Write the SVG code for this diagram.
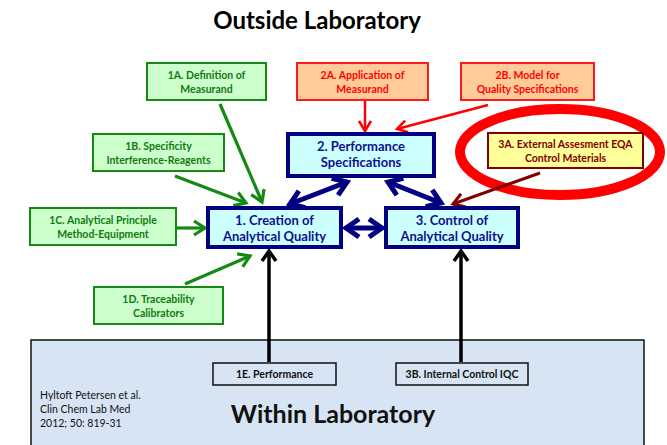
<svg xmlns="http://www.w3.org/2000/svg" width="667" height="445" viewBox="0 0 667 445">
<style>
text{font-family:Lato,"Open Sans","Liberation Sans",sans-serif;font-weight:bold;text-anchor:middle}
.g rect{fill:#ccffcc;stroke:#148a14;stroke-width:2}
.g text{fill:#0f7a0f;font-size:10.5px}
.r rect{fill:#ffcc99;stroke:#ff1a1a;stroke-width:2}
.r text{fill:#ff0000;font-size:10.5px}
.b rect{fill:#ccffff;stroke:#000080;stroke-width:4}
.b text{fill:#10108a;font-size:13px}
.y rect{fill:#ffff99;stroke:#800000;stroke-width:2}
.y text{fill:#800000;font-size:10.5px}
.k rect{fill:#d6e4f3;stroke:#111;stroke-width:1.5}
.k text{fill:#111;font-size:10px}
.ga{stroke:#148a14;stroke-width:3.2;fill:none;marker-end:url(#mg)}
.ra{stroke:#ff0000;stroke-width:2.5;fill:none;marker-end:url(#mr)}
.ba{stroke:#000080;stroke-width:5;fill:none;marker-end:url(#mb);marker-start:url(#mb)}
.da{stroke:#800000;stroke-width:3;fill:none;marker-end:url(#md)}
.ka{stroke:#000;stroke-width:3.5;fill:none;marker-end:url(#mk)}
</style>
<defs>
<marker id="mg" markerUnits="userSpaceOnUse" viewBox="-14 -9 16 18" markerWidth="16" markerHeight="18" refX="0" refY="0" orient="auto" overflow="visible"><path d="M-11,-7 L0,0 L-11,7" fill="none" stroke="#148a14" stroke-width="3.2"/></marker>
<marker id="mr" markerUnits="userSpaceOnUse" viewBox="-14 -9 16 18" markerWidth="16" markerHeight="18" refX="0" refY="0" orient="auto" overflow="visible"><path d="M-10,-6 L0,0 L-10,6" fill="none" stroke="#ff0000" stroke-width="2.5"/></marker>
<marker id="md" markerUnits="userSpaceOnUse" viewBox="-14 -9 16 18" markerWidth="16" markerHeight="18" refX="0" refY="0" orient="auto" overflow="visible"><path d="M-11,-7 L0,0 L-11,7" fill="none" stroke="#800000" stroke-width="3"/></marker>
<marker id="mb" markerUnits="userSpaceOnUse" viewBox="-16 -11 18 22" markerWidth="18" markerHeight="22" refX="0" refY="0" orient="auto-start-reverse" overflow="visible"><path d="M-13,-9 L0,0 L-13,9" fill="none" stroke="#000080" stroke-width="5"/></marker>
<marker id="mk" markerUnits="userSpaceOnUse" viewBox="-14 -9 16 18" markerWidth="16" markerHeight="18" refX="0" refY="0" orient="auto" overflow="visible"><path d="M-10,-7 L0,0 L-10,7" fill="none" stroke="#000" stroke-width="3.5"/></marker>
</defs>
<rect width="667" height="445" fill="#fff"/>
<text x="317" y="29" style="font-size:24px;fill:#000">Outside Laboratory</text>

<g id="within" class="k">
<rect x="31" y="340" width="613" height="110"/>
<text x="40" y="399" style="font-weight:normal;text-anchor:start;font-size:10.5px">Hyltoft Petersen et al.</text>
<text x="40" y="413" style="font-weight:normal;text-anchor:start;font-size:10.5px">Clin Chem Lab Med</text>
<text x="40" y="427" style="font-weight:normal;text-anchor:start;font-size:10.5px">2012; 50: 819-31</text>
<text x="333" y="423" style="font-size:25px">Within Laboratory</text>
</g>

<ellipse id="highlight" cx="560" cy="152" rx="100" ry="43" fill="none" stroke="#ff0000" stroke-width="10"/>

<g id="connectors">
<line class="ga" x1="220" y1="104" x2="262" y2="202"/>
<line class="ga" x1="175" y1="176" x2="246" y2="203"/>
<line class="ga" x1="177" y1="228" x2="205" y2="228"/>
<line class="ga" x1="185" y1="284" x2="250" y2="256"/>
<line class="ra" x1="365" y1="100" x2="365" y2="131"/>
<line class="ra" x1="488" y1="105" x2="397" y2="129"/>
<line class="da" x1="540" y1="173" x2="453" y2="204"/>
<line class="ba" x1="290" y1="204" x2="347" y2="182"/>
<line class="ba" x1="388" y1="182" x2="441" y2="203"/>
<line class="ba" x1="346" y1="228" x2="382" y2="228"/>
<line class="ka" x1="269" y1="362" x2="269" y2="251"/>
<line class="ka" x1="461" y1="362" x2="461" y2="251"/>
</g>

<g id="n1A" class="g"><rect x="147" y="63" width="119" height="37"/><text x="206.5" y="79">1A. Definition of</text><text x="206.5" y="93">Measurand</text></g>
<g id="n1B" class="g"><rect x="93" y="134" width="131" height="37"/><text x="158.5" y="150">1B. Specificity</text><text x="158.5" y="164">Interference-Reagents</text></g>
<g id="n1C" class="g"><rect x="30" y="208" width="146" height="37"/><text x="103" y="224">1C. Analytical Principle</text><text x="103" y="238">Method-Equipment</text></g>
<g id="n1D" class="g"><rect x="94" y="287" width="129" height="37"/><text x="158.5" y="303">1D. Traceability</text><text x="158.5" y="317">Calibrators</text></g>
<g id="n2A" class="r"><rect x="297" y="63" width="131" height="37"/><text x="362.5" y="79">2A. Application of</text><text x="362.5" y="93">Measurand</text></g>
<g id="n2B" class="r"><rect x="461" y="63" width="133" height="37"/><text x="527.5" y="79">2B. Model for</text><text x="527.5" y="93">Quality Specifications</text></g>
<g id="n3A" class="y"><rect x="488" y="133" width="155" height="35"/><text x="565.5" y="148">3A. External Assesment EQA</text><text x="565.5" y="162">Control Materials</text></g>
<g id="n2" class="b"><rect x="288" y="134" width="146" height="42"/><text x="361" y="151">2. Performance</text><text x="361" y="167">Specifications</text></g>
<g id="n1" class="b"><rect x="208" y="208" width="133" height="39"/><text x="274.5" y="225">1. Creation of</text><text x="274.5" y="241">Analytical Quality</text></g>
<g id="n3" class="b"><rect x="386" y="208" width="132" height="39"/><text x="452" y="225">3. Control of</text><text x="452" y="241">Analytical Quality</text></g>
<g id="n1E" class="k"><rect x="213" y="363" width="123" height="22"/><text x="274.5" y="378" style="font-size:10.5px">1E. Performance</text></g>
<g id="n3B" class="k"><rect x="396" y="363" width="132" height="22"/><text x="462" y="378" style="font-size:10.5px">3B. Internal Control IQC</text></g>
</svg>
